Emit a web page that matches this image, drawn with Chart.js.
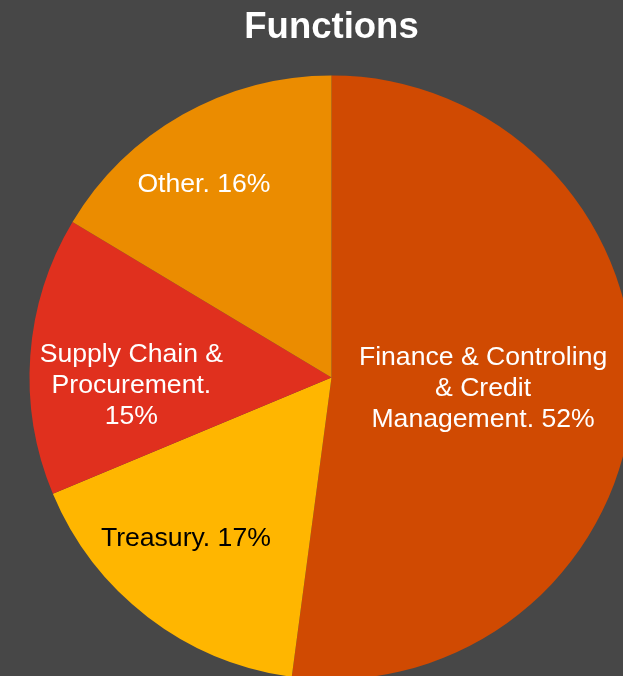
<!DOCTYPE html>
<html>
<head>
<meta charset="utf-8">
<script src="https://cdn.jsdelivr.net/npm/chart.js@4"></script>
<style>
    body { margin: 0; background: #474747; }
    #wrap { width: 623px; height: 676px; position: relative; }
</style>
</head>
<body>
<div id="wrap"><canvas id="myChart"></canvas></div>
<script>
let titulo = "Functions";
let categorias = ["Finance & Controling & Credit Management", "Treasury", "Supply Chain & Procurement", "Other"];
let porcentajes = [52.1, 16.6, 14.9, 16.4];
let colores = ["#D04A02", "#FFB600", "#E0301E", "#EB8C00"];
let coloresTexto = ["#ffffff", "#000000", "#ffffff", "#ffffff"];

// donde va cada etiqueta: fraccion del radio, giro en grados, ancho maximo de linea
let posEtiquetas = [
    { f: 0.503, giro: 0, ancho: 254 },
    { f: 0.716, giro: 4.9, ancho: 400 },
    { f: 0.663, giro: -6.1, ancho: 195 },
    { f: 0.769, giro: -3.8, ancho: 400 }
];

function partirTexto(ctx, texto, ancho) {
    let palabras = texto.split(" ");
    let lineas = [];
    let actual = "";
    for (const p of palabras) {
        let prueba = actual ? actual + " " + p : p;
        if (actual && ctx.measureText(prueba).width > ancho) {
            lineas.push(actual);
            actual = p;
        } else {
            actual = prueba;
        }
    }
    if (actual) lineas.push(actual);
    return lineas;
}

const etiquetas = {
    id: "etiquetas",
    afterDatasetsDraw(chart) {
        const ctx = chart.ctx;
        const meta = chart.getDatasetMeta(0);
        ctx.save();
        ctx.font = "26.6px 'Liberation Sans', Arial, sans-serif";
        ctx.textAlign = "center";
        ctx.textBaseline = "middle";
        meta.data.forEach((arco, i) => {
            const p = arco.getProps(["x", "y", "startAngle", "endAngle", "outerRadius"], true);
            const conf = posEtiquetas[i];
            const ang = (p.startAngle + p.endAngle) / 2 + conf.giro * Math.PI / 180;
            const r = p.outerRadius * conf.f;
            const x = p.x + Math.cos(ang) * r;
            const y = p.y + Math.sin(ang) * r + 1;
            const texto = categorias[i] + ". " + Math.round(porcentajes[i]) + "%";
            const lineas = partirTexto(ctx, texto, conf.ancho);
            const alto = 31;
            ctx.fillStyle = coloresTexto[i];
            lineas.forEach((l, j) => {
                ctx.fillText(l, x, y + (j - (lineas.length - 1) / 2) * alto);
            });
        });
        ctx.restore();
    }
};

let grafico = new Chart(document.querySelector("#myChart"), {
    type: "pie",
    data: {
        labels: categorias,
        datasets: [{
            data: porcentajes,
            backgroundColor: colores,
            borderWidth: 0,
            clip: false
        }]
    },
    options: {
        responsive: true,
        maintainAspectRatio: false,
        animation: false,
        radius: 302,
        layout: { padding: { left: 40, right: 0, top: 0, bottom: 0 } },
        plugins: {
            legend: { display: false },
            tooltip: { enabled: false },
            title: {
                display: true,
                text: titulo,
                color: "#ffffff",
                font: { family: "'Liberation Sans', Arial, sans-serif", size: 36.5, weight: "bold" },
                padding: { top: 6, bottom: 29 }
            }
        }
    },
    plugins: [etiquetas]
});
</script>
</body>
</html>
